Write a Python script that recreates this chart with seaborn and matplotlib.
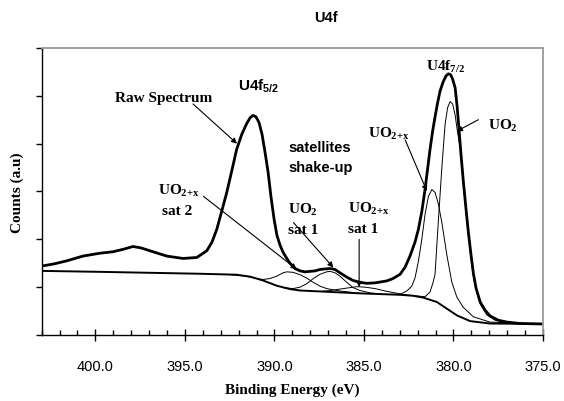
import matplotlib
matplotlib.use("Agg")
import matplotlib.pyplot as plt
import seaborn as sns
import pandas as pd

# ---------------- data (binding energy in eV, counts in a.u.) ----------------
raw_be = [403.00, 402.26, 401.60, 400.69, 399.74, 399.02, 398.46, 397.90, 397.45, 396.95,
          396.02, 395.11, 394.34, 393.78, 393.49, 393.22, 392.95, 392.67, 392.39, 392.11,
          391.83, 391.55, 391.36, 391.20, 391.03, 390.86, 390.69, 390.53, 390.36, 390.19,
          390.02, 389.86, 389.69, 389.52, 389.31, 389.13, 388.85, 388.57, 388.29, 388.01,
          387.73, 387.45, 387.17, 386.89, 386.62, 386.34, 385.96, 385.61, 385.22, 384.84,
          384.38, 383.73, 383.38, 382.98, 382.70, 382.43, 382.15, 381.96, 381.77, 381.59,
          381.45, 381.31, 381.17, 381.03, 380.89, 380.75, 380.58, 380.41, 380.29, 380.16,
          380.05, 379.91, 379.80, 379.69, 379.58, 379.45, 379.30, 379.17, 379.02, 378.89,
          378.74, 378.51, 378.24, 377.96, 377.51, 377.02, 376.28, 375.00]
raw_counts = [1.44, 1.49, 1.55, 1.65, 1.71, 1.74, 1.79, 1.85, 1.82, 1.76,
              1.65, 1.60, 1.62, 1.76, 1.94, 2.21, 2.58, 2.97, 3.42, 3.88,
              4.19, 4.42, 4.54, 4.59, 4.56, 4.44, 4.19, 3.83, 3.42, 2.88,
              2.42, 2.08, 1.88, 1.73, 1.60, 1.50, 1.39, 1.34, 1.32, 1.33,
              1.34, 1.37, 1.38, 1.39, 1.37, 1.30, 1.21, 1.14, 1.10, 1.08,
              1.09, 1.13, 1.18, 1.27, 1.42, 1.65, 1.94, 2.21, 2.58, 3.04,
              3.46, 3.88, 4.25, 4.56, 4.85, 5.10, 5.29, 5.42, 5.46, 5.44,
              5.35, 5.17, 4.79, 4.29, 3.77, 3.21, 2.63, 2.15, 1.67, 1.29,
              0.98, 0.69, 0.52, 0.40, 0.31, 0.27, 0.24, 0.23]

bg_be = [403.00, 399.74, 396.95, 394.16, 392.11, 391.36, 390.64, 389.87, 389.13, 388.57,
         386.89, 385.22, 382.98, 382.26, 381.68, 380.93, 380.37, 379.81, 379.07, 377.96, 375.00]
bg_counts = [1.34, 1.32, 1.30, 1.28, 1.26, 1.22, 1.14, 1.03, 0.96, 0.93,
             0.90, 0.87, 0.84, 0.82, 0.78, 0.69, 0.55, 0.41, 0.29, 0.24, 0.23]

uo2_be = [382.15, 381.59, 381.31, 381.14, 381.03, 380.84, 380.65, 380.47, 380.33, 380.19,
          380.05, 379.91, 379.77, 379.63, 379.49, 379.35, 379.21, 379.07, 378.93, 378.79,
          378.51, 378.14, 377.68, 376.84, 375.00]
uo2_counts = [0.82, 0.80, 0.90, 1.10, 1.27, 2.42, 3.50, 4.40, 4.75, 4.88,
              4.83, 4.60, 4.23, 3.92, 3.33, 2.77, 2.23, 1.75, 1.33, 1.02,
              0.65, 0.42, 0.31, 0.25, 0.23]

uo2x_be = [383.54, 382.98, 382.61, 382.33, 382.15, 381.96, 381.77, 381.59, 381.40, 381.21,
           381.03, 380.84, 380.65, 380.37, 380.09, 379.81, 379.46, 378.89, 377.96, 375.00]
uo2x_counts = [0.85, 0.85, 0.92, 1.02, 1.19, 1.54, 2.00, 2.52, 2.90, 3.04,
               2.98, 2.73, 2.35, 1.67, 1.10, 0.79, 0.58, 0.38, 0.27, 0.23]

sat2_be = [392.48, 391.64, 390.99, 390.64, 390.25, 389.87, 389.52, 389.31, 388.96, 388.57,
           388.20, 387.83, 387.45, 387.08, 386.34, 385.22]
sat2_counts = [1.26, 1.23, 1.18, 1.16, 1.18, 1.23, 1.30, 1.32, 1.31, 1.26,
               1.19, 1.10, 1.02, 0.97, 0.92, 0.87]

uo2sat1_be = [389.52, 388.96, 388.57, 388.20, 387.83, 387.45, 387.08, 386.89, 386.62, 386.34,
              385.96, 385.61, 385.22, 384.66, 384.10]
uo2sat1_counts = [0.99, 0.97, 1.00, 1.07, 1.18, 1.27, 1.32, 1.33, 1.30, 1.23,
                  1.10, 0.99, 0.93, 0.88, 0.86]

uo2xsat1_be = [387.45, 386.89, 386.34, 385.78, 385.40, 384.94, 384.38, 383.82, 383.26, 382.70, 382.15]
uo2xsat1_counts = [0.91, 0.93, 0.96, 0.99, 1.01, 1.00, 0.97, 0.92, 0.88, 0.84, 0.82]

x_ticks = [400, 395, 390, 385, 380, 375]
x_tick_labels = ["400.0", "395.0", "390.0", "385.0", "380.0", "375.0"]

# ---------------- style ----------------
sns.set_theme(style="ticks")
plt.rcParams['font.family'] = ['Liberation Sans', 'DejaVu Sans']
plt.rcParams['mathtext.fontset'] = 'custom'
plt.rcParams['mathtext.rm'] = 'Liberation Serif:bold'
plt.rcParams['mathtext.sf'] = 'Liberation Sans:bold'
plt.rcParams['mathtext.it'] = 'Liberation Serif:bold'
plt.rcParams['mathtext.bf'] = 'Liberation Serif:bold'

SERIF = ['Liberation Serif', 'DejaVu Serif']

fig = plt.figure(figsize=(5.64, 4.02), dpi=100)
ax = fig.add_axes([0.0739, 0.1642, 0.8889, 0.714])

def draw(be, counts, lw):
    df = pd.DataFrame({"be": be, "counts": counts})
    sns.lineplot(data=df, x="be", y="counts", ax=ax, color="black",
                 linewidth=lw, sort=False, estimator=None)

draw(sat2_be, sat2_counts, 0.7)
draw(uo2sat1_be, uo2sat1_counts, 0.7)
draw(uo2xsat1_be, uo2xsat1_counts, 0.7)
draw(uo2x_be, uo2x_counts, 0.7)
draw(uo2_be, uo2_counts, 0.7)
draw(bg_be, bg_counts, 1.4)
draw(raw_be, raw_counts, 2.0)

ax.set_xlim(403, 375)
ax.set_ylim(0, 6)
ax.set_xticks(x_ticks)
ax.set_xticklabels(x_tick_labels)
ax.set_xticks(list(range(375, 404)), minor=True)
ax.set_yticks(list(range(0, 7)))
ax.set_yticklabels([])
ax.tick_params(axis='x', which='major', direction='inout', length=8, width=1,
               color='black', labelsize=10.5, pad=13, labelcolor='black')
ax.tick_params(axis='x', which='minor', direction='in', length=3.5, width=1, color='black')
ax.tick_params(axis='y', which='major', direction='out', length=4.5, width=1, color='black')
ax.tick_params(axis='y', which='minor', left=False)

for s in ['left', 'bottom']:
    ax.spines[s].set_color('black')
    ax.spines[s].set_linewidth(1.0)
for s in ['top', 'right']:
    ax.spines[s].set_color('#9a9a9a')
    ax.spines[s].set_linewidth(1.3)

ax.set_xlabel("Binding Energy (eV)", family=SERIF, fontweight='bold', fontsize=11,
              labelpad=7, color='black')
ax.set_ylabel("Counts (a.u)", family=SERIF, fontweight='bold', fontsize=11,
              labelpad=5, color='black')

fig.text(326 / 564, 1 - 18 / 402, "U4f", ha='center', va='center', fontsize=10.5,
         fontweight='bold', color='black')

ap = dict(arrowstyle='-|>', color='black', lw=0.8, mutation_scale=8, shrinkA=0, shrinkB=0)
stxt = dict(family=SERIF, fontweight='bold', fontsize=11, color='black')
ptxt = dict(fontweight='bold', fontsize=10.5, color='black')

# labels
ax.text(396.2, 4.96, "Raw Spectrum", ha='center', va='center', **stxt)
ax.annotate("", xy=(392.09, 4.0), xytext=(394.55, 4.83), arrowprops=ap)

ax.text(392.03, 5.21, r"U4f$_{\mathsf{5/2}}$", ha='left', va='center', fontweight='bold',
        fontsize=11, color='black')
ax.text(380.47, 5.63, r"U4f$_{7/2}$", ha='center', va='center', **stxt)

ax.text(378.07, 4.40, r"UO$_{2}$", ha='left', va='center', **stxt)
ax.annotate("", xy=(379.82, 4.26), xytext=(378.61, 4.5), arrowprops=ap)

ax.text(384.77, 4.23, r"UO$_{2{+}x}$", ha='left', va='center', **stxt)
ax.annotate("", xy=(381.49, 3.01), xytext=(382.70, 4.08), arrowprops=ap)

ax.text(389.24, 3.94, "satellites", ha='left', va='center', **ptxt)
ax.text(389.24, 3.52, "shake-up", ha='left', va='center', **ptxt)

ax.text(396.50, 3.04, r"UO$_{2{+}x}$", ha='left', va='center', **stxt)
ax.text(396.30, 2.60, "sat 2", ha='left', va='center', **stxt)
ax.annotate("", xy=(388.76, 1.375), xytext=(393.97, 2.90), arrowprops=ap)

ax.text(389.24, 2.63, r"UO$_{2}$", ha='left', va='center', **stxt)
ax.text(389.24, 2.21, "sat 1", ha='left', va='center', **stxt)
ax.annotate("", xy=(386.71, 1.41), xytext=(388.94, 2.35), arrowprops=ap)

ax.text(385.89, 2.65, r"UO$_{2{+}x}$", ha='left', va='center', **stxt)
ax.text(385.89, 2.23, "sat 1", ha='left', va='center', **stxt)
ax.annotate("", xy=(385.27, 1.0), xytext=(385.27, 2.0), arrowprops=ap)

fig.savefig("out.png", dpi=100)
